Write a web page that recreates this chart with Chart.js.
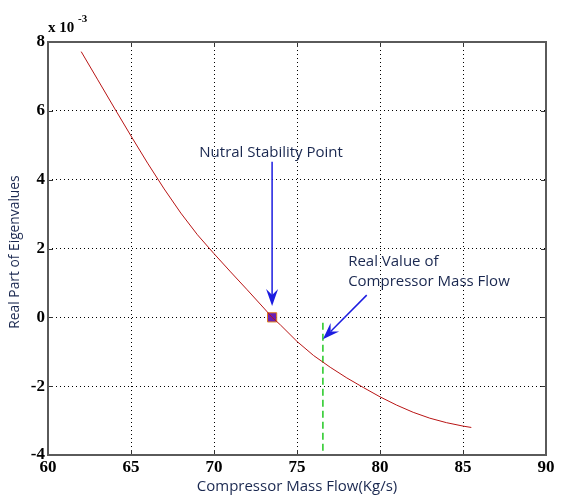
<!DOCTYPE html>
<html>
<head>
<meta charset="utf-8">
<script src="https://cdn.jsdelivr.net/npm/chart.js@4.4.1/dist/chart.umd.min.js"></script>
<style>
  html, body { margin: 0; padding: 0; background: #fff; }
  canvas { display: block; }
</style>
</head>
<body>
<canvas id="eigChart" width="561" height="496"></canvas>
<script>
// Data (real part is in units of 1e-3)
const massFlow = [62, 63, 64, 65, 66, 67, 68, 69, 70, 71, 72, 73, 73.5, 74, 75, 76, 77, 78, 79, 80, 81, 82, 83, 84, 85, 85.5];
const realPart = [7.72, 6.90, 6.08, 5.27, 4.48, 3.73, 3.03, 2.40, 1.85, 1.32, 0.80, 0.27, 0, -0.22, -0.70, -1.11, -1.45, -1.76, -2.04, -2.31, -2.55, -2.76, -2.93, -3.06, -3.16, -3.20];

const neutralPoint = [73.5, 0];
const realFlowX = [76.56, 76.56];
const realFlowY = [-0.16, -4];

const xTicks = [60, 65, 70, 75, 80, 85, 90];
const yTicks = [-4, -2, 0, 2, 4, 6, 8];

// annotation anchors in data units
const note1 = { text: ['Nutral Stability Point'], x: 73.44, y: 4.67, from: [73.5, 4.52], to: [73.5, 0.33], align: 'center' };
const note2 = { text: ['Real Value of', 'Compressor Mass Flow'], x: 78.08, y: 1.49, from: [79.2, 0.645], to: [76.56, -0.64], align: 'left' };

const navy = '#1a2850';
const arrowBlue = '#1c1ce0';

function drawArrow(ctx, x1, y1, x2, y2) {
    const a = Math.atan2(y2 - y1, x2 - x1);
    const c = Math.cos(a), s = Math.sin(a);
    const L = 17, W = 6, N = 11;
    ctx.strokeStyle = arrowBlue;
    ctx.fillStyle = arrowBlue;
    ctx.lineWidth = 1.5;
    ctx.beginPath();
    ctx.moveTo(x1, y1);
    ctx.lineTo(x2 - N * c, y2 - N * s);
    ctx.stroke();
    ctx.beginPath();
    ctx.moveTo(x2, y2);
    ctx.lineTo(x2 - L * c + W * s, y2 - L * s - W * c);
    ctx.lineTo(x2 - N * c, y2 - N * s);
    ctx.lineTo(x2 - L * c - W * s, y2 - L * s + W * c);
    ctx.closePath();
    ctx.fill();
}

const decorations = {
    id: 'decorations',
    afterDraw(chart) {
        const ctx = chart.ctx;
        const area = chart.chartArea;
        const xs = chart.scales.x, ys = chart.scales.y;
        ctx.save();

        // inward tick marks on all four sides
        ctx.strokeStyle = '#333';
        ctx.lineWidth = 1;
        ctx.beginPath();
        xTicks.forEach(v => {
            const px = Math.round(xs.getPixelForValue(v)) + 0.5;
            ctx.moveTo(px, area.bottom); ctx.lineTo(px, area.bottom - 5);
            ctx.moveTo(px, area.top); ctx.lineTo(px, area.top + 5);
        });
        yTicks.forEach(v => {
            const py = Math.round(ys.getPixelForValue(v)) + 0.5;
            ctx.moveTo(area.left, py); ctx.lineTo(area.left + 5, py);
            ctx.moveTo(area.right, py); ctx.lineTo(area.right - 5, py);
        });
        ctx.stroke();

        // frame
        ctx.strokeStyle = '#5a5a5a';
        ctx.lineWidth = 2;
        ctx.strokeRect(area.left, area.top, area.right - area.left, area.bottom - area.top);

        // exponent label
        ctx.fillStyle = '#000';
        ctx.font = 'bold 15px "Liberation Serif"';
        ctx.textAlign = 'left';
        ctx.textBaseline = 'alphabetic';
        ctx.fillText('x 10', 48, 32);
        ctx.font = 'bold 11px "Liberation Serif"';
        ctx.fillText('-3', 78, 22);

        // axis titles
        ctx.fillStyle = navy;
        ctx.font = '15px "Open Sans"';
        ctx.textAlign = 'center';
        ctx.textBaseline = 'middle';
        ctx.fillText('Compressor Mass Flow(Kg/s)', 297, 487);
        ctx.save();
        ctx.translate(15, 252);
        ctx.rotate(-Math.PI / 2);
        ctx.font = '13.8px "Open Sans"';
        ctx.fillText('Real Part of Eigenvalues', 0, 0);
        ctx.restore();

        // annotations
        [note1, note2].forEach(n => {
            ctx.fillStyle = navy;
            ctx.font = '15px "Open Sans"';
            ctx.textAlign = n.align;
            ctx.textBaseline = 'alphabetic';
            const tx = xs.getPixelForValue(n.x);
            const ty = ys.getPixelForValue(n.y);
            n.text.forEach((line, i) => ctx.fillText(line, tx, ty + i * 20));
            drawArrow(ctx,
                xs.getPixelForValue(n.from[0]), ys.getPixelForValue(n.from[1]),
                xs.getPixelForValue(n.to[0]), ys.getPixelForValue(n.to[1]));
        });

        ctx.restore();
    }
};

const tickFont = { family: '"Liberation Serif"', size: 17, weight: 'bold' };

new Chart(document.getElementById('eigChart'), {
    type: 'scatter',
    data: {
        datasets: [
            {
                label: 'real part',
                data: massFlow.map((x, i) => ({ x: x, y: realPart[i] })),
                showLine: true,
                borderColor: '#b81414',
                borderWidth: 1,
                pointRadius: 0,
                tension: 0
            },
            {
                label: 'real mass flow',
                data: realFlowX.map((x, i) => ({ x: x, y: realFlowY[i] })),
                showLine: true,
                borderColor: '#22c722',
                borderWidth: 1.5,
                borderDash: [7, 4],
                pointRadius: 0
            },
            {
                label: 'neutral point',
                data: [{ x: neutralPoint[0], y: neutralPoint[1] }],
                pointStyle: 'rect',
                pointRadius: 6.5,
                backgroundColor: '#6a1fb4',
                borderColor: '#e0821e',
                borderWidth: 1
            }
        ]
    },
    options: {
        responsive: false,
        animation: false,
        devicePixelRatio: 1,
        layout: { padding: { left: 0, top: 42, right: 15, bottom: 0 } },
        plugins: {
            legend: { display: false },
            tooltip: { enabled: false }
        },
        scales: {
            x: {
                type: 'linear',
                min: 60,
                max: 90,
                afterBuildTicks: s => { s.ticks = xTicks.map(v => ({ value: v })); },
                afterFit: s => { s.height = 41; },
                grid: { color: '#000', lineWidth: 1, drawTicks: false },
                border: { display: false, dash: [1, 3] },
                ticks: { font: tickFont, color: '#000', padding: 2, maxRotation: 0 }
            },
            y: {
                type: 'linear',
                min: -4,
                max: 8,
                afterBuildTicks: s => { s.ticks = yTicks.map(v => ({ value: v })); },
                afterFit: s => { s.width = 48; },
                grid: { color: '#000', lineWidth: 1, drawTicks: false },
                border: { display: false, dash: [1, 3] },
                ticks: { font: tickFont, color: '#000', padding: 3 }
            }
        }
    },
    plugins: [decorations]
});
</script>
</body>
</html>
